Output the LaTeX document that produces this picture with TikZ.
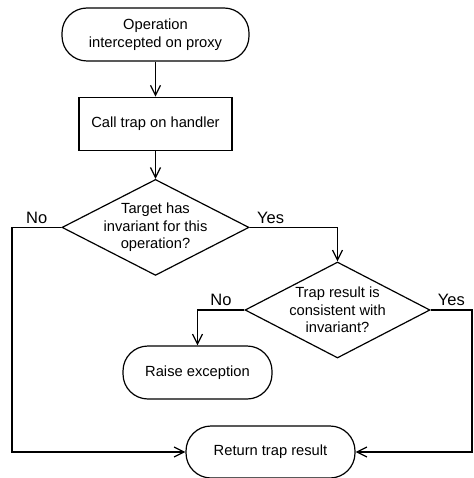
\documentclass[tikz,border=0pt]{standalone}
\usepackage{fontspec}
\setmainfont{Liberation Sans}
\usetikzlibrary{shapes.geometric, arrows.meta, positioning}

\begin{document}
\begin{tikzpicture}[
    x=1pt, y=1pt,
    line width=1.2pt,
    every node/.style={font=\fontsize{14.7pt}{17.6pt}\selectfont},
    terminal/.style={rectangle, rounded corners=25pt, draw, align=center, minimum height=53pt},
    process/.style={rectangle, draw, align=center, minimum width=153pt, minimum height=53pt},
    decision/.style={diamond, aspect=1.95, draw, align=center, inner sep=-3pt, minimum width=187pt, minimum height=96pt},
    answer/.style={above, font=\fontsize{16.5pt}{19pt}\selectfont},
    flow/.style={-{Straight Barb[length=10pt, width=10pt]}}
]
    \useasboundingbox (0,0) rectangle (473,-478);
    % Nodes
    \node[terminal, minimum width=187pt] (start) at (155.5,-34.5) {Operation\\intercepted on proxy};
    \node[process] (call) [below=35pt of start] {Call trap on handler};
    \node[decision] (check) [below=28pt of call] {Target has\\invariant for this\\operation?};
    \node[decision, minimum width=185pt] (consistent) at (337.5,-310) {Trap result is\\consistent with\\invariant?};
    \node[terminal, minimum width=149pt] (raise) at (197.5,-372.5) {Raise exception};
    \node[terminal, minimum width=169pt, minimum height=52pt] (return) at (270.5,-452) {Return trap result};
    \coordinate (leftturn) at (12,-452);
    \coordinate (rightturn) at (472,-452);
    % Connections
    \draw[flow] (start) -- (call);
    \draw[flow] (call) -- (check);
    \draw[flow] (check.east) -| node[answer, pos=0.12] {Yes} (consistent.north);
    \draw[flow] (check.west) -| node[answer, pos=0.25] {No} (leftturn) -- (return.west);
    \draw[flow] (consistent.west) -| node[answer, pos=0.25] {No} (raise.north);
    \draw[flow] (consistent.east) -| node[answer, pos=0.25] {Yes} (rightturn) -- (return.east);
\end{tikzpicture}
\end{document}
